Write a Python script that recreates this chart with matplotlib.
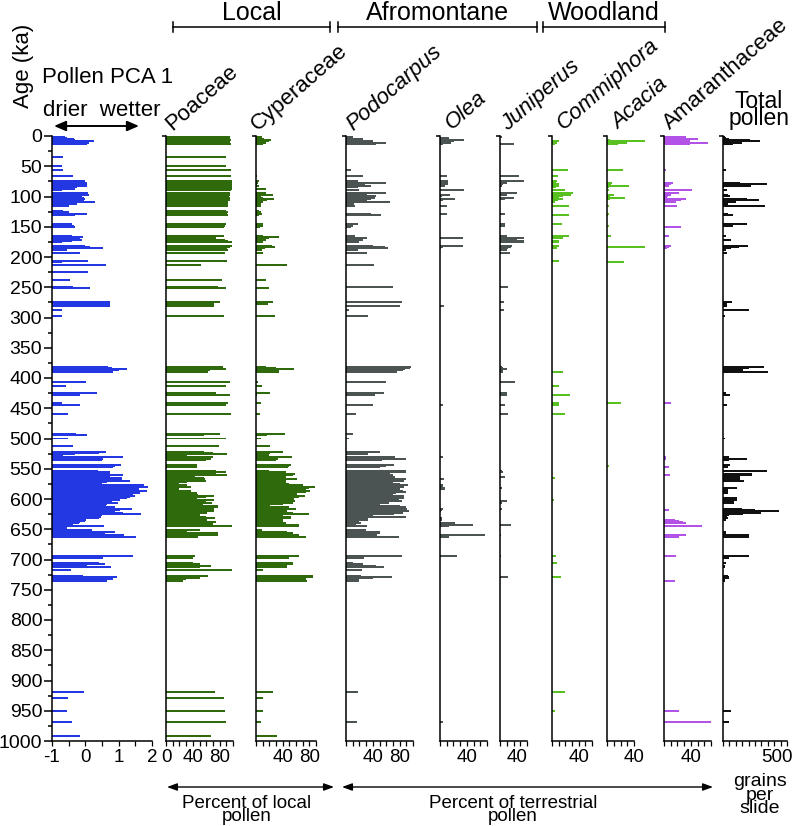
import matplotlib
matplotlib.use("Agg")
import matplotlib.pyplot as plt
import numpy as np

plt.rcParams['font.family'] = ['Liberation Sans', 'DejaVu Sans']

# ---------------- data (ages in ka) ----------------
AGE = [1, 3, 5, 7, 9, 11, 13, 34, 50, 57,
       66, 75, 77, 80, 82, 85, 88, 90, 95, 97,
       99, 102, 104, 106, 109, 112, 115, 124, 126, 129,
       131, 146, 148, 150, 165, 167, 169, 172, 174, 176,
       181, 183, 185, 188, 194, 206, 209, 214, 224, 238,
       249, 252, 275, 277, 281, 287, 297, 381, 383, 385,
       387, 390, 407, 413, 425, 428, 442, 445, 459, 492,
       494, 500, 513, 522, 524, 526, 528, 531, 534, 535,
       543, 545, 547, 554, 556, 558, 560, 563, 565, 567,
       570, 572, 575, 577, 580, 582, 584, 586, 588, 590,
       593, 595, 597, 599, 601, 603, 606, 608, 611, 613,
       616, 618, 620, 623, 625, 627, 630, 631, 634, 636,
       638, 640, 643, 645, 648, 651, 655, 657, 660, 663,
       694, 697, 706, 708, 710, 712, 717, 727, 729, 731, 733, 736,
       919, 929, 950, 968, 992]

PCA1 = [-0.60, -0.55, -0.35, -0.30, 0.25, 0.10, 0.05, -0.68, -0.71, -0.66,
        -0.36, 0.00, 0.05, 0.04, 0.05, -0.26, -0.30, -0.71, 0.07, 0.10,
        -0.10, -0.05, 0.00, -0.05, 0.29, -0.26, -0.50, -0.66, -0.50, 0.04,
        -0.30, -0.41, -0.35, -0.31, -0.41, -0.08, -0.16, -0.10, -0.40, -0.71,
        0.00, 0.14, 0.54, -0.56, -0.16, 0.09, -0.71, 0.61, 0.09, -0.46,
        -0.36, 0.14, 0.74, 0.74, 0.74, -0.71, -0.71, 0.69, 0.80, 1.26,
        1.00, 0.82, 0.02, -0.59, 0.34, -0.16, -0.71, -0.16, -0.53, -0.28,
        0.04, -0.51, -0.38, 0.62, 0.40, -0.31, -0.66, 1.14, 0.54, 0.50,
        1.07, 0.90, 0.82, 0.39, 0.74, 0.74, 1.12, 0.74, 1.09, 1.09,
        1.34, 0.64, 0.50, 1.75, 1.89, 1.60, 1.61, 1.84, 1.60, 1.64,
        1.44, 1.49, 1.34, 1.24, 1.04, 0.80, 0.99, 0.64, 0.62, 0.90,
        1.39, 1.04, 0.90, 1.12, 1.67, 0.50, 0.47, 0.42, 0.02, 0.00,
        -0.16, -0.20, -0.36, 0.57, -0.55, 0.21, 0.89, 0.60, 1.16, 1.52,
        1.44, 0.54, 0.42, 0.60, 0.04, 0.76, -0.44, -0.06, 0.94, 0.80, 0.84, 0.64,
        -0.03, -0.51, -0.56, -0.41, -0.16]

POACEAE = [95, 96, 95, 97, 96, 95, 97, 90, 90, 97,
           97, 98, 99, 98, 98, 99, 99, 97, 96, 95,
           94, 96, 94, 95, 93, 92, 93, 90, 92, 91,
           92, 90, 88, 87, 87, 64, 75, 88, 92, 99,
           98, 96, 91, 92, 88, 91, 0, 52, 0, 83,
           78, 90, 81, 72, 72, 0, 86, 85, 80, 89,
           65, 63, 95, 90, 75, 96, 93, 90, 97, 81,
           56, 89, 79, 56, 70, 91, 31, 70, 67, 60,
           46, 46, 46, 75, 90, 75, 91, 44, 56, 58,
           59, 31, 20, 31, 37, 20, 20, 37, 37, 47,
           48, 71, 60, 46, 71, 60, 68, 55, 78, 78,
           71, 71, 71, 61, 45, 50, 60, 73, 61, 55,
           75, 70, 70, 98, 0, 50, 31, 77, 77, 48,
           43, 40, 41, 50, 67, 51, 98, 62, 50, 50, 30, 26,
           73, 87, 88, 90, 67]

CYPERACEAE = [9, 5, 12, 23, 19, 15, 10, 0, 0, 0,
              2, 5, 3, 2, 5, 0, 15, 0, 15, 25,
              8, 10, 27, 17, 10, 7, 7, 5, 8, 9,
              4, 10, 10, 6, 10, 35, 20, 15, 5, 10,
              24, 29, 14, 9, 10, 0, 0, 46, 0, 15,
              0, 20, 26, 18, 0, 0, 29, 15, 30, 57,
              35, 35, 3, 9, 21, 2, 7, 0, 6, 43,
              17, 8, 21, 41, 21, 10, 20, 54, 33, 30,
              53, 50, 48, 20, 45, 58, 55, 45, 43, 61,
              45, 45, 50, 70, 89, 80, 75, 81, 75, 62,
              62, 74, 65, 57, 57, 58, 55, 40, 21, 50,
              60, 45, 46, 55, 79, 40, 53, 52, 40, 40,
              40, 45, 64, 64, 0, 9, 47, 55, 64, 75,
              64, 50, 56, 55, 46, 46, 10, 85, 85, 75, 75, 76,
              26, 11, 10, 8, 31]

PODOCARPUS = [11, 5, 26, 10, 41, 60, 45, 0, 0, 7,
              26, 18, 60, 28, 38, 18, 0, 19, 60, 31,
              45, 44, 38, 32, 66, 12, 14, 0, 0, 38,
              52, 18, 10, 8, 14, 0, 32, 25, 20, 20,
              40, 58, 63, 18, 32, 0, 0, 42, 0, 0,
              70, 0, 83, 0, 81, 4, 33, 97, 95, 88,
              85, 76, 60, 0, 56, 44, 0, 41, 15, 10,
              0, 5, 0, 50, 32, 33, 0, 73, 90, 54,
              71, 60, 50, 90, 89, 66, 70, 73, 61, 89,
              86, 70, 80, 92, 86, 80, 80, 85, 89, 74,
              70, 86, 85, 87, 79, 84, 64, 50, 81, 90,
              91, 88, 94, 85, 71, 40, 90, 33, 33, 20,
              18, 22, 15, 32, 0, 30, 50, 50, 46, 79,
              84, 27, 11, 25, 45, 56, 24, 22, 69, 41, 19, 19,
              18, 0, 0, 17, 0]

OLEA = [0, 14, 0, 36, 21, 16, 5, 0, 0, 0,
        10, 12, 12, 12, 8, 0, 0, 35, 0, 15,
        3, 0, 22, 5, 0, 0, 10, 0, 0, 10,
        0, 0, 0, 0, 0, 0, 34, 0, 0, 0,
        34, 4, 2, 0, 0, 0, 0, 0, 0, 0,
        0, 0, 0, 0, 6, 0, 0, 0, 0, 0,
        0, 0, 0, 0, 0, 0, 0, 5, 0, 0,
        0, 0, 0, 0, 0, 0, 0, 4, 0, 0,
        0, 0, 0, 0, 0, 0, 0, 0, 0, 6,
        0, 0, 0, 4, 4, 8, 8, 0, 0, 0,
        0, 0, 0, 0, 0, 0, 0, 0, 0, 0,
        4, 3, 2, 0, 0, 0, 0, 3, 3, 0,
        0, 23, 49, 14, 0, 0, 0, 0, 67, 14,
        26, 0, 0, 0, 0, 0, 0, 0, 0, 0, 0, 0,
        0, 0, 0, 4, 0]

JUNIPERUS = [3, 0, 0, 0, 0, 0, 21, 0, 0, 0,
             28, 35, 10, 5, 3, 0, 0, 0, 25, 11,
             0, 21, 8, 0, 0, 0, 0, 0, 0, 7,
             0, 7, 7, 0, 10, 0, 35, 25, 35, 35,
             18, 16, 12, 10, 15, 0, 0, 0, 0, 0,
             12, 0, 6, 0, 0, 6, 0, 3, 4, 11,
             5, 5, 22, 0, 10, 10, 0, 8, 12, 0,
             0, 0, 0, 0, 0, 0, 0, 0, 0, 0,
             0, 0, 0, 3, 4, 0, 0, 7, 0, 0,
             0, 0, 0, 0, 0, 3, 0, 0, 0, 0,
             0, 0, 0, 0, 0, 11, 3, 0, 0, 0,
             3, 0, 0, 0, 0, 0, 0, 0, 0, 0,
             0, 0, 16, 0, 0, 0, 0, 0, 2, 0,
             2, 0, 0, 0, 0, 0, 0, 0, 12, 0, 0, 0,
             0, 0, 0, 0, 0]

COMMIPHORA = [0, 0, 0, 0, 10, 8, 5, 0, 0, 24,
              9, 7, 6, 10, 11, 6, 0, 19, 32, 28,
              16, 10, 17, 9, 5, 0, 25, 0, 0, 0,
              26, 15, 0, 0, 25, 0, 17, 0, 10, 10,
              10, 8, 7, 0, 0, 10, 0, 0, 0, 0,
              0, 0, 0, 0, 0, 0, 0, 0, 0, 0,
              0, 17, 0, 10, 0, 27, 10, 10, 20, 0,
              0, 0, 0, 0, 0, 0, 0, 0, 0, 0,
              0, 0, 0, 0, 0, 0, 0, 0, 4, 0,
              0, 0, 0, 0, 0, 0, 0, 0, 0, 0,
              0, 0, 0, 0, 3, 0, 0, 0, 0, 0,
              0, 0, 0, 0, 0, 0, 0, 0, 0, 0,
              0, 0, 0, 0, 0, 0, 0, 0, 0, 0,
              6, 0, 7, 0, 0, 0, 0, 0, 14, 0, 0, 0,
              19, 0, 5, 0, 0]

ACACIA = [0, 0, 0, 5, 56, 30, 17, 0, 0, 23,
          0, 0, 7, 6, 33, 3, 0, 3, 0, 11,
          4, 26, 5, 0, 0, 0, 3, 0, 0, 3,
          2, 0, 3, 0, 6, 0, 0, 0, 0, 0,
          0, 56, 0, 0, 0, 0, 25, 0, 0, 0,
          0, 0, 0, 0, 0, 0, 0, 0, 0, 0,
          0, 0, 0, 0, 0, 0, 20, 0, 0, 0,
          0, 0, 0, 0, 0, 0, 0, 0, 0, 0,
          0, 3, 0, 0, 0, 0, 0, 0, 0, 0,
          0, 0, 0, 0, 0, 0, 0, 0, 0, 0,
          0, 0, 0, 0, 0, 0, 0, 0, 0, 0,
          0, 0, 0, 0, 0, 0, 0, 0, 0, 0,
          0, 0, 0, 0, 0, 0, 0, 0, 0, 0,
          0, 0, 0, 0, 0, 0, 0, 0, 0, 0, 0, 0,
          0, 0, 0, 0, 0]

AMARANTHACEAE = [33, 20, 50, 28, 38, 66, 38, 0, 0, 3,
                 0, 0, 13, 10, 8, 0, 0, 41, 23, 10,
                 6, 5, 33, 25, 18, 0, 19, 0, 0, 0,
                 0, 0, 0, 25, 8, 0, 0, 0, 0, 0,
                 11, 8, 5, 0, 0, 0, 0, 0, 0, 0,
                 0, 0, 0, 0, 0, 0, 0, 0, 0, 0,
                 0, 0, 0, 0, 0, 0, 10, 0, 0, 0,
                 0, 0, 0, 0, 0, 0, 0, 3, 3, 0,
                 0, 0, 8, 0, 0, 0, 9, 0, 0, 0,
                 0, 0, 0, 0, 0, 0, 0, 0, 0, 0,
                 0, 0, 0, 0, 0, 0, 0, 0, 0, 0,
                 0, 8, 0, 0, 0, 0, 0, 0, 17, 23,
                 28, 33, 0, 57, 0, 0, 0, 0, 33, 22,
                 18, 0, 0, 0, 0, 0, 0, 0, 0, 0, 0, 17,
                 0, 0, 23, 70, 0]

TOTAL_POLLEN = [13, 20, 50, 211, 286, 150, 78, 0, 0, 24,
                0, 0, 131, 345, 219, 10, 0, 32, 0, 40,
                56, 0, 190, 278, 100, 40, 332, 0, 0, 40,
                78, 190, 77, 0, 24, 0, 0, 60, 0, 0,
                198, 122, 60, 20, 30, 0, 0, 0, 0, 0,
                0, 0, 70, 30, 30, 203, 16, 323, 200, 100,
                160, 353, 0, 0, 20, 51, 0, 30, 0, 0,
                0, 16, 0, 0, 0, 0, 0, 48, 184, 50,
                56, 40, 37, 345, 0, 225, 225, 130, 131, 131,
                165, 0, 0, 0, 0, 112, 40, 40, 35, 37,
                0, 0, 0, 110, 110, 85, 85, 0, 0, 0,
                150, 251, 441, 300, 157, 50, 30, 40, 25, 0,
                0, 0, 0, 0, 0, 0, 20, 20, 206, 206,
                200, 50, 24, 0, 19, 19, 0, 40, 43, 43, 16, 16,
                0, 0, 59, 45, 0]

PCA_TICKS = [-1, 0, 1, 2]
AGE_TICKS = list(range(0, 1001, 50))

for arr in [PCA1, POACEAE, CYPERACEAE, PODOCARPUS, OLEA, JUNIPERUS,
            COMMIPHORA, ACACIA, AMARANTHACEAE, TOTAL_POLLEN]:
    assert len(arr) == len(AGE), len(arr)

# ---------------- layout ----------------
W, H = 793, 826
fig = plt.figure(figsize=(W / 100, H / 100), dpi=100)
Y0, Y1 = 136, 741
BAR_H = 3.3
LW = 1.1


def panel(x0, x1, xlim):
    ax = fig.add_axes([x0 / W, 1 - Y1 / H, (x1 - x0) / W, (Y1 - Y0) / H])
    ax.set_xlim(*xlim)
    ax.set_ylim(1000, 0)
    ax.patch.set_alpha(0)
    for s in ('top', 'right'):
        ax.spines[s].set_visible(False)
    for s in ('left', 'bottom'):
        ax.spines[s].set_linewidth(LW)
    ax.tick_params(axis='x', direction='out', length=3.5, width=0.9,
                   labelsize=13.5, pad=2.5)
    return ax


def pct_panel(x0, x1, xmax, vals, color, labels, step=10):
    ax = panel(x0, x1, (0, xmax))
    ticks = list(range(0, xmax + 1, step))
    ax.set_xticks(ticks)
    ax.set_xticklabels([str(t) if t in labels else '' for t in ticks])
    ax.set_yticks([0])
    ax.set_yticklabels([])
    ax.tick_params(axis='y', direction='out', length=3, width=LW)
    ax.barh(AGE, vals, height=BAR_H, left=0, color=color, linewidth=0,
            clip_on=False)
    return ax


BLUE = '#2337e2'
DGREEN = '#2f6a0c'
GREY = '#4b5353'
LGREEN = '#58c020'
PURPLE = '#b352e6'
BLACK = '#111111'

# PCA panel
ax = panel(52, 152, (-1, 2))
ax.barh(AGE, np.array(PCA1) + 1, left=-1, height=BAR_H, color=BLUE,
        linewidth=0, clip_on=False)
ax.set_xticks(np.arange(-1, 2.01, 0.5))
ax.set_xticklabels(['-1' if t == -1 else (str(int(t)) if t in PCA_TICKS else '')
                    for t in np.arange(-1, 2.01, 0.5)])
ax.set_yticks(AGE_TICKS)
ax.set_yticklabels([str(a) for a in AGE_TICKS])
ax.set_yticks(range(25, 1000, 50), minor=True)
ax.tick_params(axis='y', which='major', direction='out', length=5.5,
               width=1.1, labelsize=14, pad=1.5)
ax.tick_params(axis='y', which='minor', direction='out', length=3, width=1.1)

pct_panel(166, 233, 100, POACEAE, DGREEN, (0, 40, 80))
pct_panel(256, 316, 90, CYPERACEAE, DGREEN, (40, 80))
pct_panel(346, 413, 100, PODOCARPUS, GREY, (40, 80))
pct_panel(440, 487, 70, OLEA, GREY, (40,))
axj = pct_panel(500, 527, 40, JUNIPERUS, GREY, ())
axj.annotate('40', xy=(40, 0), xycoords=('data', 'axes fraction'),
             xytext=(-7, -6), textcoords='offset points', ha='center',
             va='top', fontsize=13.5)
pct_panel(552, 592, 60, COMMIPHORA, LGREEN, (40,))
pct_panel(607, 634, 40, ACACIA, LGREEN, (40,))
pct_panel(664, 711, 70, AMARANTHACEAE, PURPLE, (40,))
axt = pct_panel(723, 787, 500, TOTAL_POLLEN, BLACK, (), step=50)
axt.annotate('500', xy=(500, 0), xycoords=('data', 'axes fraction'),
             xytext=(4, -6), textcoords='offset points', ha='right',
             va='top', fontsize=13.5)

# ---------------- overlay text & annotations ----------------
ov = fig.add_axes([0, 0, 1, 1])
ov.set_xlim(0, W)
ov.set_ylim(H, 0)
ov.set_axis_off()

ov.text(24, 66, 'Age (ka)', rotation=90, ha='center', va='center', fontsize=16)
ov.text(42, 83, 'Pollen PCA 1', ha='left', va='baseline', fontsize=16)
ov.text(43, 116, 'drier  wetter', ha='left', va='baseline', fontsize=16)
ov.annotate('', xy=(139, 126), xytext=(54, 126),
            arrowprops=dict(arrowstyle='<|-|>,head_length=0.7,head_width=0.3',
                            color='k', lw=1.4, shrinkA=0, shrinkB=0))

# group brackets
for label, a, b in [('Local', 173, 330), ('Afromontane', 338, 537),
                    ('Woodland', 543, 665)]:
    ov.plot([a, b], [27, 27], color='k', lw=1.1)
    ov.plot([a, a], [22, 32], color='k', lw=1.1)
    ov.plot([b, b], [22, 32], color='k', lw=1.1)
    ov.text((a + b) / 2, 20, label, ha='center', va='baseline', fontsize=18)

# taxon names
taxa = [('Poaceae', 172, 131, 'normal'), ('Cyperaceae', 258, 131, 'normal'),
        ('Podocarpus', 353, 131, 'italic'), ('Olea', 452, 130, 'italic'),
        ('Juniperus', 508, 131, 'italic'), ('Commiphora', 563, 130, 'italic'),
        ('Acacia', 618, 130, 'italic'), ('Amaranthaceae', 670, 130, 'normal')]
for name, x, y, st in taxa:
    ov.text(x, y, name, rotation=41, rotation_mode='anchor', ha='left',
            va='baseline', fontsize=16, style=st)
ov.text(759, 125, 'Total\npollen', ha='center', va='baseline', fontsize=16.5,
        linespacing=0.68, multialignment='center')

# bottom annotations
ov.annotate('', xy=(334, 787), xytext=(167, 787),
            arrowprops=dict(arrowstyle='<|-|>,head_length=0.6,head_width=0.22',
                            color='k', lw=1.0, shrinkA=0, shrinkB=0))
ov.annotate('', xy=(713, 787), xytext=(342, 787),
            arrowprops=dict(arrowstyle='<|-|>,head_length=0.6,head_width=0.22',
                            color='k', lw=1.0, shrinkA=0, shrinkB=0))
ov.text(247, 821, 'Percent of local\npollen', ha='center', va='baseline',
        fontsize=13.5, linespacing=0.72, multialignment='center')
ov.text(513, 821, 'Percent of terrestrial\npollen', ha='center',
        va='baseline', fontsize=13.5, linespacing=0.72,
        multialignment='center')
ov.text(760, 813, 'grains\nper\nslide', ha='center', va='baseline',
        fontsize=14, linespacing=0.72, multialignment='center')

fig.savefig('out.png', dpi=100)
